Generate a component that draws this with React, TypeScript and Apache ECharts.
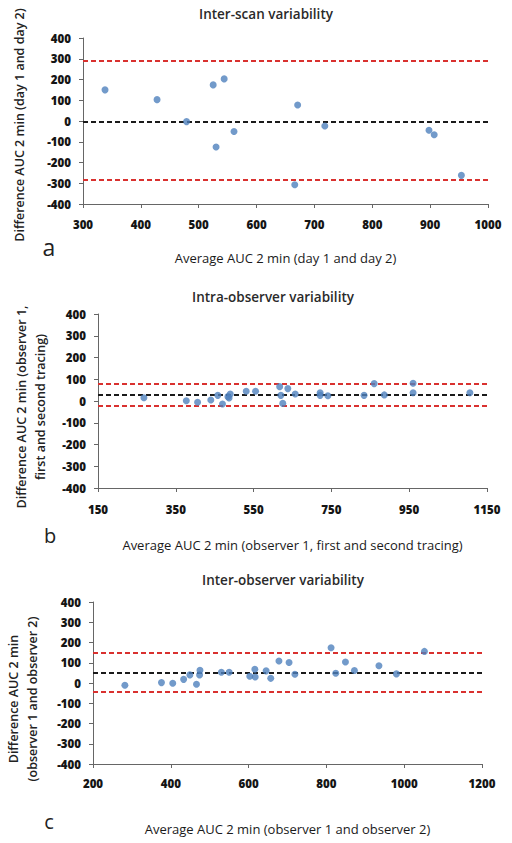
import React, { useEffect, useRef } from "react";
import * as echarts from "echarts";

// Panel a: Inter-scan variability
const avgA = [338, 428, 479, 525, 530, 544, 561, 666, 671, 718, 898, 907, 954];
const diffA = [150, 103, -3, 174, -125, 203, -51, -307, 77, -24, -45, -66, -262];
const linesA = { mean: -6, upper: 290, lower: -285 };

// Panel b: Intra-observer variability
const avgB = [268, 377, 406, 440, 458, 470, 484, 487, 490, 531, 555, 617, 620, 625, 638, 657, 721, 721, 741, 834, 860, 886, 960, 960, 1106];
const diffB = [15, 1, -6, 5, 26, -14, 20, 14, 32, 45, 45, 66, 26, -11, 57, 32, 38, 26, 24, 26, 80, 28, 82, 38, 38];
const linesB = { mean: 29, upper: 80, lower: -23 };

// Panel c: Inter-observer variability
const avgC = [282, 376, 405, 433, 449, 466, 474, 475, 530, 550, 603, 616, 617, 645, 657, 678, 704, 719, 812, 824, 849, 872, 935, 980, 1052];
const diffC = [-11, 2, -1, 18, 40, -6, 40, 63, 53, 53, 33, 68, 30, 60, 23, 109, 101, 43, 174, 48, 104, 62, 85, 45, 156];
const linesC = { mean: 50, upper: 150, lower: -45 };

const yTicks = { min: -400, max: 400, interval: 100 };
const xA = { min: 300, max: 1000, interval: 100 };
const xB = { min: 150, max: 1150, interval: 200 };
const xC = { min: 200, max: 1200, interval: 200 };

const titles = ["Inter-scan variability", "Intra-observer variability", "Inter-observer variability"];
const xNames = [
  "Average AUC 2 min (day 1 and day 2)",
  "Average AUC 2 min (observer 1, first and second tracing)",
  "Average AUC 2 min (observer 1 and observer 2)",
];
const yNames = [
  ["Difference AUC 2 min (day 1 and day 2)"],
  ["Difference AUC 2 min (observer 1,", "first and second tracing)"],
  ["Difference AUC 2 min", "(observer 1 and observer 2)"],
];
const letters = ["a", "b", "c"];

const FONT = '"Open Sans", Lato, sans-serif';
const BLUE = "#4F81BD";
const RED = "#D9312F";
const AXIS = "#666666";

export default function App() {
  const ref = useRef<HTMLDivElement>(null);

  useEffect(() => {
    if (!ref.current) return;
    const chart = echarts.init(ref.current, undefined, { renderer: "svg" });

    const grids = [
      { left: 83, top: 38, width: 405, height: 166 },
      { left: 98, top: 314, width: 389, height: 174 },
      { left: 93, top: 602, width: 389, height: 162 },
    ];
    const xRanges = [xA, xB, xC];
    const xNameGaps = [47, 50, 58];
    const xLabelMargins = [14, 15, 13];
    const yLabelMargins = [12, 12, 12];
    const panels = [
      { avg: avgA, diff: diffA, lines: linesA },
      { avg: avgB, diff: diffB, lines: linesB },
      { avg: avgC, diff: diffC, lines: linesC },
    ];
    const plain = (v: number) => String(v);

    const xAxis = xRanges.map((r, i) => ({
      type: "value",
      gridIndex: i,
      min: r.min,
      max: r.max,
      interval: r.interval,
      name: xNames[i],
      nameLocation: "middle",
      nameGap: xNameGaps[i],
      nameTextStyle: { fontFamily: FONT, fontSize: 13, color: "#1a1a1a" },
      axisLine: { show: true, onZero: false, lineStyle: { color: AXIS, width: 1 } },
      axisTick: { show: true, inside: false, length: 4, lineStyle: { color: AXIS } },
      axisLabel: { formatter: plain, margin: xLabelMargins[i], fontFamily: FONT, fontWeight: 800, fontSize: 11.5, color: "#151515" },
      splitLine: { show: false },
    }));

    const yAxis = [0, 1, 2].map((i) => ({
      type: "value",
      gridIndex: i,
      min: yTicks.min,
      max: yTicks.max,
      interval: yTicks.interval,
      axisLine: { show: true, onZero: false, lineStyle: { color: AXIS, width: 1 } },
      axisTick: { show: true, inside: false, length: 4, lineStyle: { color: AXIS } },
      axisLabel: { formatter: plain, margin: yLabelMargins[i], fontFamily: FONT, fontWeight: 800, fontSize: 11.5, color: "#151515" },
      splitLine: { show: false },
    }));

    const series = panels.map((p, i) => ({
      type: "scatter",
      xAxisIndex: i,
      yAxisIndex: i,
      symbolSize: 7,
      z: 3,
      itemStyle: { color: BLUE },
      data: p.avg.map((x, k) => [x, p.diff[k]]),
      markLine: {
        silent: true,
        symbol: "none",
        z: 1,
        label: { show: false },
        data: [
          { yAxis: p.lines.upper, lineStyle: { color: RED, type: [5, 3], width: 2 } },
          { yAxis: p.lines.mean, lineStyle: { color: "#1a1a1a", type: [5, 3], width: 2 } },
          { yAxis: p.lines.lower, lineStyle: { color: RED, type: [5, 3], width: 2 } },
        ],
      },
    }));

    const titlePos = [
      { x: 266, y: 14 },
      { x: 273, y: 297 },
      { x: 283, y: 580 },
    ];
    const letterPos = [
      { x: 49, y: 247, size: 23 },
      { x: 50, y: 535, size: 20 },
      { x: 49, y: 821, size: 20 },
    ];
    const yNamePos = [
      { x: [19], y: 125 },
      { x: [21, 40], y: 407 },
      { x: [13, 32], y: 699 },
    ];

    const graphic: any[] = [];
    titles.forEach((t, i) => {
      graphic.push({
        type: "text",
        x: titlePos[i].x,
        y: titlePos[i].y,
        style: {
          text: t,
          fontFamily: FONT,
          fontWeight: 600,
          fontSize: 13.5,
          fill: "#2a2a2a",
          align: "center",
          verticalAlign: "middle",
        },
      });
      graphic.push({
        type: "text",
        x: letterPos[i].x,
        y: letterPos[i].y,
        style: {
          text: letters[i],
          fontFamily: FONT,
          fontSize: letterPos[i].size,
          fill: "#222",
          align: "center",
          verticalAlign: "middle",
        },
      });
      yNames[i].forEach((line, k) => {
        graphic.push({
          type: "text",
          x: yNamePos[i].x[k],
          y: yNamePos[i].y,
          rotation: Math.PI / 2,
          style: {
            text: line,
            fontFamily: FONT,
            fontWeight: 600,
            fontSize: 12.5,
            fill: "#222",
            align: "center",
            verticalAlign: "middle",
          },
        });
      });
    });

    chart.setOption({
      animation: false,
      backgroundColor: "#ffffff",
      grid: grids,
      xAxis,
      yAxis,
      series,
      graphic,
    });

    return () => chart.dispose();
  }, []);

  return (
    <div
      ref={ref}
      style={{ position: "fixed", left: 0, top: 0, width: 512, height: 843 }}
    />
  );
}
